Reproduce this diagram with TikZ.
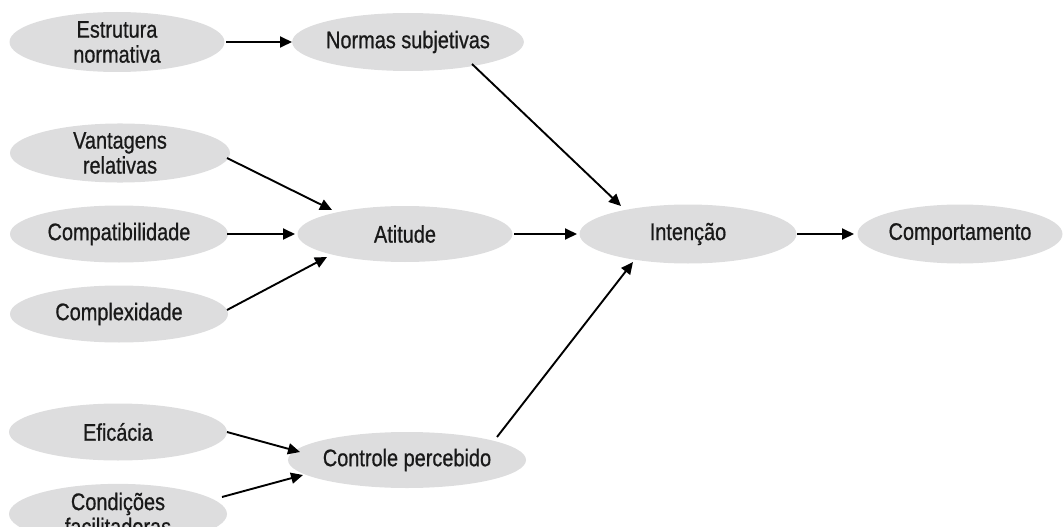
\documentclass[tikz,border=0pt]{standalone}
\usepackage{fontspec}
\setmainfont{Liberation Sans}[FakeStretch=0.83,FakeBold=0.7]
\usetikzlibrary{shapes.geometric,arrows.meta,calc}
\definecolor{ellfill}{RGB}{221,221,222}
\definecolor{txt}{RGB}{25,25,25}
\tikzset{
  ell/.style={ellipse, fill=ellfill, draw=none, inner sep=0pt,
    minimum width=218pt, minimum height=57pt, align=center,
    text=txt, font=\fontsize{24}{25}\selectfont},
  arr/.style={line width=1.9pt, draw=black,
    -{Triangle[length=12pt,width=11pt]}}
}
\begin{document}
\begin{tikzpicture}[x=1pt,y=-1pt]
\useasboundingbox (0,0) rectangle (1063,527);
\clip (0,0) rectangle (1063,527);
\node[ell, minimum width=215pt, minimum height=60pt] (est) at (117,42) {Estrutura\\normativa};
\node[ell, minimum height=58pt] (ns) at (408,42) {Normas subjetivas};
\node[ell, minimum width=220pt] (vant) at (120,153) {Vantagens\\relativas};
\node[ell] (compat) at (119,234) {Compatibilidade};
\node[ell] (complex) at (119,314) {Complexidade};
\node[ell, minimum width=215pt, minimum height=56pt] (atit) at (405,234) {Atitude};
\node[ell, minimum width=217pt, minimum height=59pt] (int) at (688,234) {Intenção};
\node[ell, minimum width=205pt, minimum height=59pt] (comp) at (960,234) {Comportamento};
\node[ell] (efic) at (118,432) {Eficácia};
\node[ell, minimum height=56pt] (ctrl) at (407,460) {Controle percebido};
\node[ell, minimum height=58pt] (cond) at (118,514) {Condições\\facilitadoras};

\draw[arr] ($(est)+(109,0)$) -- ($(ns)+(-116,0)$);
\draw[arr] ($(ns)+(64,22)$) -- ($(int)+(-67,-28)$);
\draw[arr] ($(vant)+(107,5)$) -- ($(atit)+(-73,-24)$);
\draw[arr] ($(compat)+(108,0)$) -- ($(atit)+(-110,0)$);
\draw[arr] ($(complex)+(108,-4)$) -- ($(atit)+(-78,23)$);
\draw[arr] ($(atit)+(109,0)$) -- ($(int)+(-111,0)$);
\draw[arr] ($(int)+(109,0)$) -- ($(comp)+(-106,0)$);
\draw[arr] ($(efic)+(109,0)$) -- ($(ctrl)+(-107,-8)$);
\draw[arr] ($(cond)+(104,-17)$) -- ($(ctrl)+(-104,15)$);
\draw[arr] ($(ctrl)+(90,-23)$) -- ($(int)+(-55,28)$);
\end{tikzpicture}
\end{document}
